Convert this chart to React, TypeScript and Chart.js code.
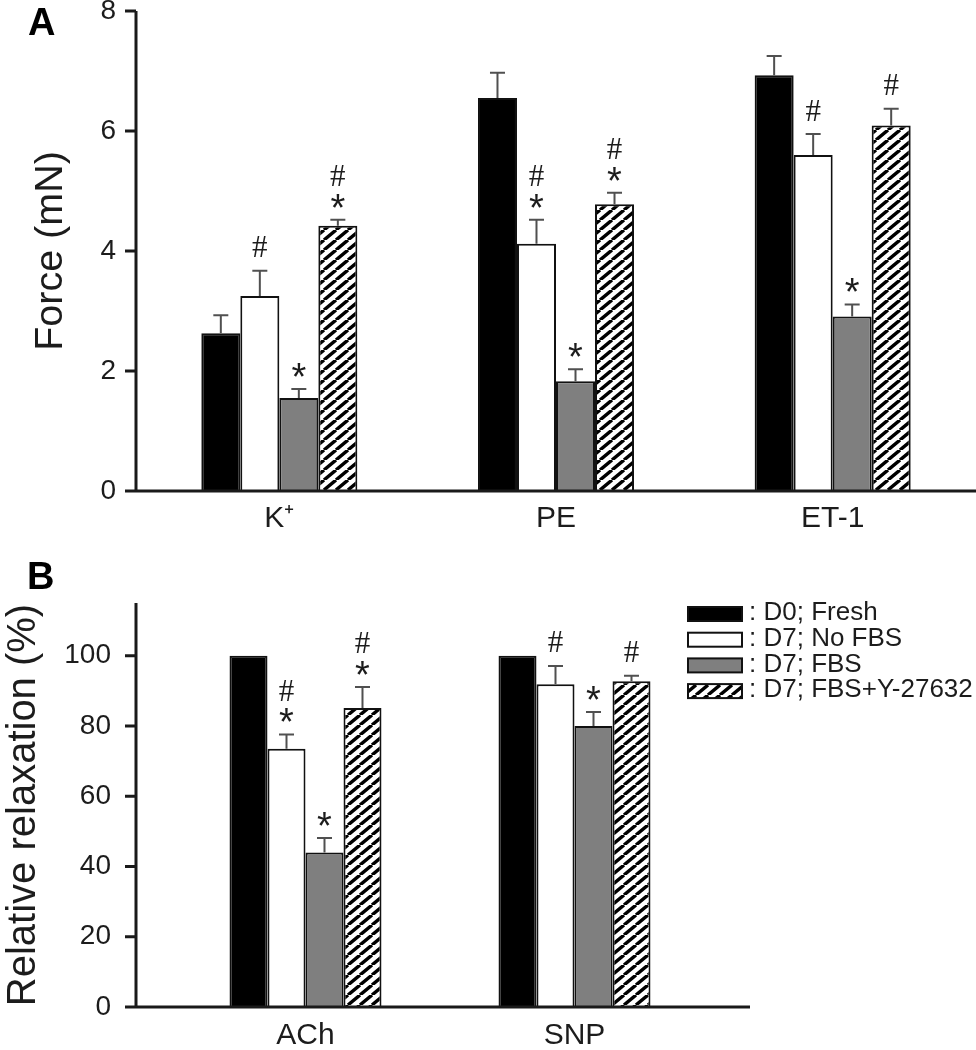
import React, { useEffect, useRef } from 'react';
import { Chart, registerables } from 'chart.js';

Chart.register(...registerables);

const FONT = '"Liberation Sans", Arial, Helvetica, sans-serif';
const TEXT = '#1c1c1c';

// ---------- data ----------
const seriesLabels = ['D0; Fresh', 'D7; No FBS', 'D7; FBS', 'D7; FBS+Y-27632'];

// Panel A: Force (mN)
const forceCategories = ['K⁺', 'PE', 'ET-1'];
const forceFresh = [2.63, 6.55, 6.93];
const forceFreshErr = [0.3, 0.42, 0.32];
const forceNoFBS = [3.25, 4.12, 5.6];
const forceNoFBSErr = [0.42, 0.4, 0.35];
const forceFBS = [1.55, 1.83, 2.91];
const forceFBSErr = [0.15, 0.2, 0.2];
const forceY = [4.42, 4.78, 6.09];
const forceYErr = [0.1, 0.19, 0.28];
const forceMarksFresh = ['', '', ''];
const forceMarksNoFBS = ['#', '#*', '#'];
const forceMarksFBS = ['*', '*', '*'];
const forceMarksY = ['#*', '#*', '#'];
const forceTicksMax = 8;
const forceTickStep = 2;

// Panel B: Relative relaxation (%)
const relaxCategories = ['ACh', 'SNP'];
const relaxFresh = [100, 100];
const relaxFreshErr = [0, 0];
const relaxNoFBS = [73.5, 91.9];
const relaxNoFBSErr = [4.1, 5.2];
const relaxFBS = [44.0, 80.0];
const relaxFBSErr = [4.1, 4.0];
const relaxY = [85.1, 92.7];
const relaxYErr = [6.0, 1.6];
const relaxMarksFresh = ['', ''];
const relaxMarksNoFBS = ['#*', '#'];
const relaxMarksFBS = ['*', '*'];
const relaxMarksY = ['#*', '#'];
const relaxAxisMax = 115;
const relaxTickStep = 20;

// ---------- helpers ----------
function makeHatch(): CanvasPattern | string {
  const c = document.createElement('canvas');
  const w = 12;
  const h = 10;
  c.width = w;
  c.height = h;
  const g = c.getContext('2d');
  if (!g) return '#888';
  g.fillStyle = '#fff';
  g.fillRect(0, 0, w, h);
  g.strokeStyle = '#000';
  g.lineWidth = 3.4;
  g.beginPath();
  for (const k of [-w, 0, w]) {
    g.moveTo(k, h);
    g.lineTo(k + w, 0);
  }
  g.stroke();
  const p = g.createPattern(c, 'repeat');
  return p || '#888';
}

function drawGlyph(ctx: CanvasRenderingContext2D, text: string, x: number, cy: number, font: string) {
  ctx.font = font;
  ctx.textAlign = 'center';
  ctx.textBaseline = 'alphabetic';
  const mt = ctx.measureText(text);
  const yb = cy + (mt.actualBoundingBoxAscent - mt.actualBoundingBoxDescent) / 2;
  ctx.fillText(text, x, yb);
}

const errorBarPlugin = {
  id: 'errorBars',
  afterDatasetsDraw(chart: any) {
    const ctx = chart.ctx as CanvasRenderingContext2D;
    const y = chart.scales.y;
    chart.data.datasets.forEach((ds: any, i: number) => {
      const meta = chart.getDatasetMeta(i);
      meta.data.forEach((el: any, j: number) => {
        const e = ds.errors ? ds.errors[j] : 0;
        if (!e) return;
        const top = y.getPixelForValue(ds.data[j] + e);
        ctx.save();
        ctx.strokeStyle = '#505050';
        ctx.lineWidth = 2;
        ctx.beginPath();
        ctx.moveTo(el.x, el.y);
        ctx.lineTo(el.x, top);
        ctx.moveTo(el.x - 7.5, top);
        ctx.lineTo(el.x + 7.5, top);
        ctx.stroke();
        ctx.restore();
      });
    });
  },
};

const marksPlugin = {
  id: 'sigMarks',
  afterDatasetsDraw(chart: any) {
    const ctx = chart.ctx as CanvasRenderingContext2D;
    const y = chart.scales.y;
    chart.data.datasets.forEach((ds: any, i: number) => {
      const meta = chart.getDatasetMeta(i);
      meta.data.forEach((el: any, j: number) => {
        const m: string = ds.marks ? ds.marks[j] : '';
        if (!m) return;
        const top = y.getPixelForValue(ds.data[j] + (ds.errors ? ds.errors[j] : 0));
        ctx.save();
        ctx.fillStyle = TEXT;
        const hasStar = m.indexOf('*') >= 0;
        if (hasStar) drawGlyph(ctx, '*', el.x, top - 19, '38px ' + FONT);
        if (m.indexOf('#') >= 0) {
          drawGlyph(ctx, '#', el.x, hasStar ? top - 44 : top - 24, '31px "Liberation Serif", "Times New Roman", serif');
        }
        ctx.restore();
      });
    });
  },
};

function axesPlugin(axisX: number, xEnd: number) {
  return {
    id: 'axesLines',
    afterDatasetsDraw(chart: any) {
      const ctx = chart.ctx as CanvasRenderingContext2D;
      const y = chart.scales.y;
      const area = chart.chartArea;
      const y0 = y.getPixelForValue(0);
      ctx.save();
      ctx.strokeStyle = '#1a1a1a';
      ctx.lineWidth = 3;
      ctx.beginPath();
      ctx.moveTo(axisX, area.top);
      ctx.lineTo(axisX, y0 + 1.5);
      y.ticks.forEach((t: any) => {
        const p = y.getPixelForValue(t.value);
        ctx.moveTo(axisX - 11, p);
        ctx.lineTo(axisX, p);
      });
      ctx.moveTo(axisX - 11, y0);
      ctx.lineTo(xEnd, y0);
      ctx.stroke();
      ctx.restore();
    },
  };
}

const legendPlugin = {
  id: 'boxLegend',
  afterDraw(chart: any) {
    const ctx = chart.ctx as CanvasRenderingContext2D;
    chart.data.datasets.forEach((ds: any, i: number) => {
      const cy = 69 + i * 25.7;
      ctx.save();
      ctx.fillStyle = ds.backgroundColor;
      ctx.fillRect(688, cy - 7, 54, 14);
      ctx.strokeStyle = '#111';
      ctx.lineWidth = 2;
      ctx.strokeRect(688, cy - 7, 54, 14);
      ctx.fillStyle = TEXT;
      ctx.font = '26px ' + FONT;
      ctx.textAlign = 'left';
      ctx.textBaseline = 'middle';
      ctx.fillText(': ' + ds.label, 749, cy - 1);
      ctx.restore();
    });
  },
};

function buildDatasets(values: number[][], errors: number[][], marks: string[][], hatch: any) {
  const fills = ['#000000', '#ffffff', '#7f7f7f', hatch];
  return values.map((v, i) => ({
    label: seriesLabels[i],
    data: v,
    errors: errors[i],
    marks: marks[i],
    backgroundColor: fills[i],
    borderColor: '#111',
    borderWidth: 2,
    borderSkipped: 'bottom',
  }));
}

function baseOptions(cfg: {
  padTop: number; padRight: number; yWidth: number; xHeight: number; yMax: number; step: number;
  yPad: number; xPad: number; title: string; titleSize: number; titlePad: number; catPct: number;
}) {
  return {
    animation: false,
    responsive: false,
    devicePixelRatio: 1,
    events: [],
    layout: { padding: { top: cfg.padTop, left: 0, right: cfg.padRight, bottom: 0 } },
    plugins: { legend: { display: false }, tooltip: { enabled: false } },
    datasets: { bar: { barPercentage: 1, categoryPercentage: cfg.catPct } },
    scales: {
      x: {
        type: 'category',
        offset: true,
        grid: { display: false, drawTicks: false },
        border: { display: false },
        ticks: { color: TEXT, font: { size: 30, family: FONT }, padding: cfg.xPad, maxRotation: 0, autoSkip: false },
        afterFit: (s: any) => {
          s.height = cfg.xHeight;
          s.paddingLeft = 0;
          s.paddingRight = 0;
        },
      },
      y: {
        min: 0,
        max: cfg.yMax,
        grid: { display: false, drawTicks: false },
        border: { display: false },
        ticks: { stepSize: cfg.step, includeBounds: false, color: TEXT, font: { size: 28, family: FONT }, padding: cfg.yPad },
        title: {
          display: true,
          text: cfg.title,
          color: TEXT,
          font: { size: cfg.titleSize, family: FONT },
          padding: { top: cfg.titlePad, bottom: 0 },
        },
        afterFit: (s: any) => {
          s.width = cfg.yWidth;
          s.paddingTop = 0;
          s.paddingBottom = 0;
        },
      },
    },
  };
}

function ForcePanel() {
  const ref = useRef<HTMLCanvasElement>(null);
  useEffect(() => {
    if (!ref.current) return;
    const hatch = makeHatch();
    const chart = new Chart(ref.current, {
      type: 'bar',
      data: {
        labels: forceCategories,
        datasets: buildDatasets(
          [forceFresh, forceNoFBS, forceFBS, forceY],
          [forceFreshErr, forceNoFBSErr, forceFBSErr, forceYErr],
          [forceMarksFresh, forceMarksNoFBS, forceMarksFBS, forceMarksY],
          hatch,
        ) as any,
      },
      options: baseOptions({
        padTop: 11, padRight: 5, yWidth: 141, xHeight: 54, yMax: forceTicksMax, step: forceTickStep,
        yPad: 25, xPad: 10, title: 'Force (mN)', titleSize: 39.5, titlePad: 27, catPct: 0.564,
      }) as any,
      plugins: [errorBarPlugin, axesPlugin(136, 976), marksPlugin],
    });
    return () => chart.destroy();
  }, []);
  return <canvas ref={ref} width={976} height={545} style={{ position: 'absolute', left: 0, top: 0, display: 'block' }} />;
}

function RelaxPanel() {
  const ref = useRef<HTMLCanvasElement>(null);
  useEffect(() => {
    if (!ref.current) return;
    const hatch = makeHatch();
    const chart = new Chart(ref.current, {
      type: 'bar',
      data: {
        labels: relaxCategories,
        datasets: buildDatasets(
          [relaxFresh, relaxNoFBS, relaxFBS, relaxY],
          [relaxFreshErr, relaxNoFBSErr, relaxFBSErr, relaxYErr],
          [relaxMarksFresh, relaxMarksNoFBS, relaxMarksFBS, relaxMarksY],
          hatch,
        ) as any,
      },
      options: baseOptions({
        padTop: 58, padRight: 267, yWidth: 171, xHeight: 43, yMax: relaxAxisMax, step: relaxTickStep,
        yPad: 60, xPad: 11, title: 'Relative relaxation (%)', titleSize: 40, titlePad: 0, catPct: 0.565,
      }) as any,
      plugins: [errorBarPlugin, axesPlugin(136, 750), marksPlugin, legendPlugin],
    });
    return () => chart.destroy();
  }, []);
  return <canvas ref={ref} width={976} height={505} style={{ position: 'absolute', left: 0, top: 545, display: 'block' }} />;
}

const letterStyle: React.CSSProperties = {
  position: 'absolute',
  fontFamily: FONT,
  fontWeight: 'bold',
  fontSize: '38px',
  lineHeight: '38px',
  color: '#000',
  margin: 0,
};

export default function App() {
  return (
    <div style={{ position: 'absolute', left: 0, top: 0, width: 976, height: 1050, background: '#fff', overflow: 'hidden' }}>
      <ForcePanel />
      <RelaxPanel />
      <div style={{ ...letterStyle, left: 28, top: 3 }}>A</div>
      <div style={{ ...letterStyle, left: 27, top: 557 }}>B</div>
    </div>
  );
}
